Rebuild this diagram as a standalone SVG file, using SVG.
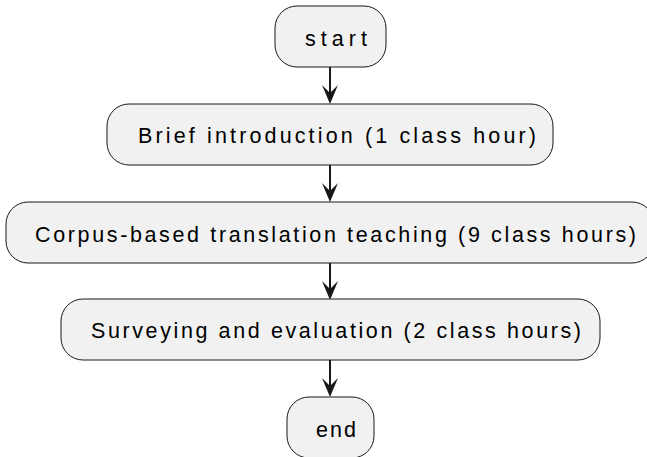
<svg xmlns="http://www.w3.org/2000/svg" width="647" height="457" viewBox="0 0 647 457">
<style>
.box{fill:#F1F1F1;stroke:#181818;stroke-width:1}
.lbl{font-family:"Liberation Sans",Arial,sans-serif;font-size:21.5px;fill:#000000}
.edge{stroke:#181818;stroke-width:2;fill:none}
</style>
<defs>
<marker id="arr" markerUnits="userSpaceOnUse" viewBox="0 0 19 16" markerWidth="19" markerHeight="16" refX="8" refY="8" orient="auto">
<path d="M0,0 L19,8 L0,16 L8,8 Z" fill="#181818"/>
</marker>
</defs>
<rect width="647" height="457" fill="#FFFFFF"/>
<g id="connectors">
<line class="edge" x1="330" y1="67" x2="330" y2="93" marker-end="url(#arr)"/>
<line class="edge" x1="330" y1="165" x2="330" y2="191" marker-end="url(#arr)"/>
<line class="edge" x1="330" y1="263" x2="330" y2="289" marker-end="url(#arr)"/>
<line class="edge" x1="330" y1="360" x2="330" y2="386" marker-end="url(#arr)"/>
</g>
<g id="start">
<rect class="box" x="275" y="6" width="111" height="61" rx="22"/>
<text class="lbl" x="305" y="46" textLength="62" lengthAdjust="spacing">start</text>
</g>
<g id="brief">
<rect class="box" x="107" y="104" width="446" height="61" rx="22"/>
<text class="lbl" x="138" y="143" textLength="398" lengthAdjust="spacing">Brief introduction (1 class hour)</text>
</g>
<g id="corpus">
<rect class="box" x="6" y="202" width="648" height="61" rx="22"/>
<text class="lbl" x="35" y="242" textLength="601" lengthAdjust="spacing">Corpus-based translation teaching (9 class hours)</text>
</g>
<g id="surveying">
<rect class="box" x="61" y="299" width="539" height="61" rx="22"/>
<text class="lbl" x="91" y="338" textLength="490" lengthAdjust="spacing">Surveying and evaluation (2 class hours)</text>
</g>
<g id="end">
<rect class="box" x="287" y="397" width="87" height="61" rx="22"/>
<text class="lbl" x="316" y="437" textLength="40" lengthAdjust="spacing">end</text>
</g>
</svg>
